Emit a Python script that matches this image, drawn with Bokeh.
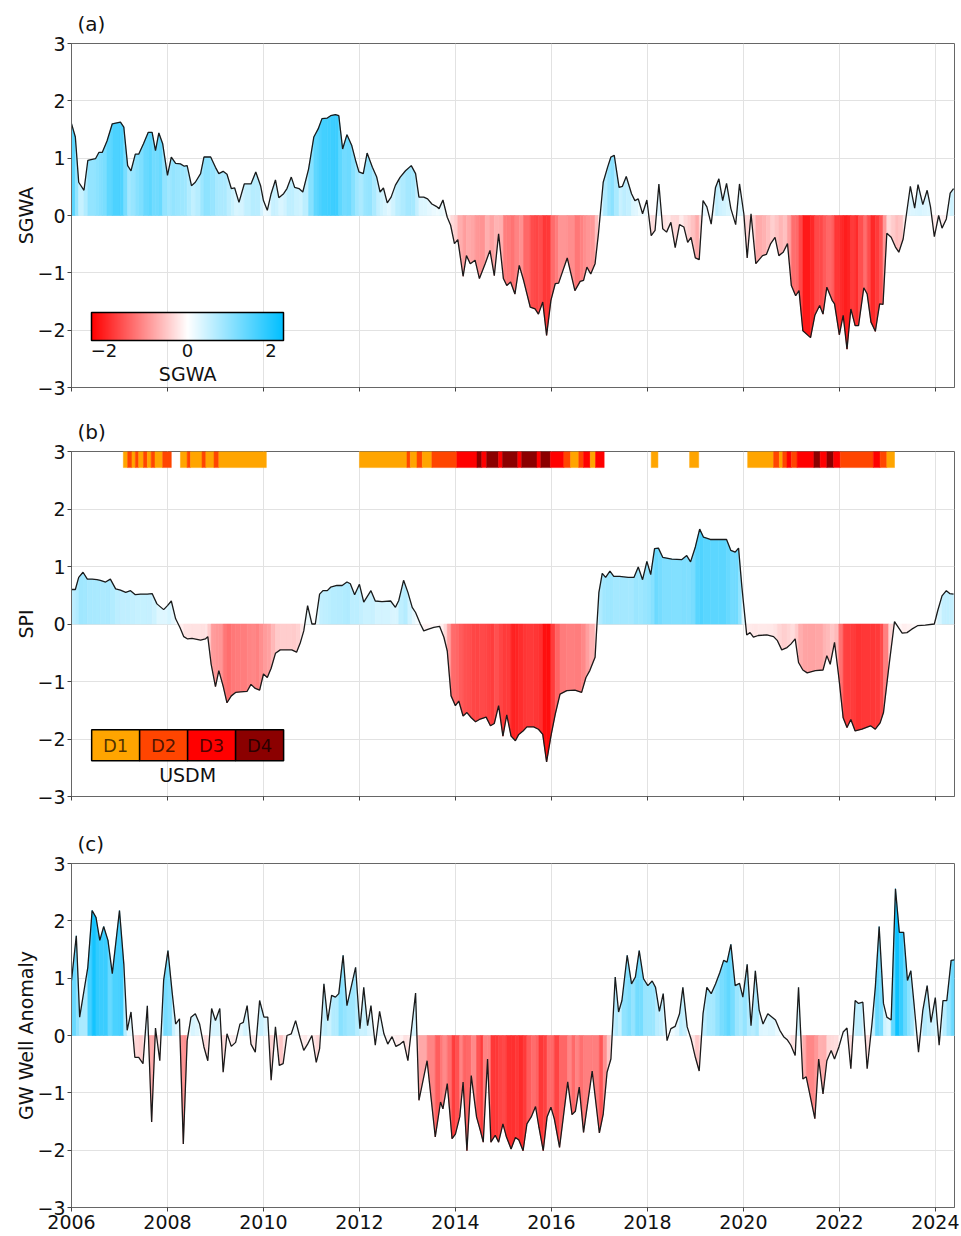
import numpy as np
from bokeh.plotting import figure
from bokeh.layouts import column
from bokeh.models import FixedTicker, ColorBar, LinearColorMapper, Label, Range1d
from bokeh.embed import file_html
from bokeh.resources import INLINE
from bokeh.core.properties import value

# ---------------- data ----------------
sgwa_t = [2006.00, 2006.08, 2006.15, 2006.26, 2006.34, 2006.50, 2006.57, 2006.64, 2006.74, 2006.85,
          2007.02, 2007.09, 2007.17, 2007.24, 2007.33, 2007.40, 2007.50, 2007.60, 2007.68, 2007.75,
          2007.82, 2007.90, 2008.00, 2008.08, 2008.17, 2008.27, 2008.35, 2008.41, 2008.50, 2008.58,
          2008.69, 2008.76, 2008.90, 2009.00, 2009.07, 2009.16, 2009.24, 2009.33, 2009.40, 2009.49,
          2009.60, 2009.74, 2009.84, 2009.94, 2010.00, 2010.08, 2010.16, 2010.25, 2010.32, 2010.42,
          2010.49, 2010.58, 2010.65, 2010.74, 2010.82, 2010.94, 2011.05, 2011.14, 2011.22, 2011.33,
          2011.40, 2011.50, 2011.57, 2011.65, 2011.74, 2011.84, 2011.92, 2011.99, 2012.08, 2012.16,
          2012.27, 2012.36, 2012.43, 2012.50, 2012.58, 2012.66, 2012.75, 2012.85, 2012.96, 2013.08,
          2013.17, 2013.24, 2013.34, 2013.42, 2013.51, 2013.60, 2013.66, 2013.74, 2013.83, 2013.90,
          2013.98, 2014.05, 2014.16, 2014.23, 2014.31, 2014.41, 2014.50, 2014.62, 2014.72, 2014.81,
          2014.90, 2015.00, 2015.07, 2015.15, 2015.24, 2015.33, 2015.42, 2015.56, 2015.66, 2015.73,
          2015.82, 2015.90, 2015.99, 2016.08, 2016.15, 2016.33, 2016.49, 2016.60, 2016.67, 2016.74,
          2016.82, 2016.91, 2016.98, 2017.08, 2017.17, 2017.24, 2017.31, 2017.41, 2017.48, 2017.56,
          2017.67, 2017.74, 2017.81, 2017.90, 2017.99, 2018.08, 2018.16, 2018.24, 2018.32, 2018.40,
          2018.49, 2018.58, 2018.67, 2018.76, 2018.84, 2018.91, 2019.00, 2019.08, 2019.16, 2019.24,
          2019.33, 2019.42, 2019.49, 2019.57, 2019.65, 2019.74, 2019.84, 2019.92, 2020.01, 2020.08,
          2020.16, 2020.26, 2020.40, 2020.48, 2020.57, 2020.66, 2020.74, 2020.83, 2020.92, 2021.00,
          2021.09, 2021.16, 2021.24, 2021.40, 2021.49, 2021.59, 2021.66, 2021.74, 2021.85, 2021.90,
          2022.00, 2022.08, 2022.16, 2022.24, 2022.33, 2022.40, 2022.51, 2022.58, 2022.66, 2022.75,
          2022.84, 2022.91, 2022.99, 2023.08, 2023.17, 2023.24, 2023.33, 2023.40, 2023.48, 2023.57,
          2023.64, 2023.74, 2023.83, 2023.90, 2023.98, 2024.07, 2024.14, 2024.23, 2024.31, 2024.38]
sgwa_v = [1.60, 1.37, 0.58, 0.44, 0.96, 0.99, 1.10, 1.10, 1.30, 1.60,
          1.63, 1.54, 0.87, 0.78, 1.07, 1.07, 1.25, 1.45, 1.45, 1.13,
          1.44, 1.25, 0.70, 1.02, 0.91, 0.90, 0.86, 0.87, 0.52, 0.58,
          0.73, 1.02, 1.02, 0.84, 0.73, 0.77, 0.72, 0.47, 0.48, 0.23,
          0.55, 0.55, 0.76, 0.52, 0.26, 0.09, 0.38, 0.62, 0.31, 0.38,
          0.47, 0.67, 0.49, 0.47, 0.41, 0.81, 1.37, 1.51, 1.69, 1.70,
          1.74, 1.76, 1.74, 1.16, 1.41, 1.22, 0.96, 0.76, 0.73, 1.09,
          0.84, 0.67, 0.41, 0.48, 0.22, 0.32, 0.53, 0.67, 0.78, 0.87,
          0.73, 0.32, 0.32, 0.29, 0.20, 0.16, 0.12, 0.27, -0.03, -0.17,
          -0.49, -0.42, -1.06, -0.70, -0.84, -0.78, -1.10, -0.84, -0.61, -1.05,
          -0.32, -1.10, -1.22, -1.16, -1.37, -0.87, -1.13, -1.60, -1.63, -1.72,
          -1.51, -2.09, -1.48, -1.19, -1.18, -0.74, -1.31, -1.15, -1.13, -0.90,
          -1.02, -0.84, -0.32, 0.58, 0.84, 1.02, 1.05, 0.49, 0.51, 0.68,
          0.38, 0.26, 0.29, 0.03, 0.27, -0.35, -0.26, 0.55, -0.23, -0.29,
          -0.12, -0.56, -0.16, -0.20, -0.47, -0.38, -0.74, -0.77, 0.26, 0.15,
          -0.15, 0.49, 0.64, 0.26, 0.56, 0.12, -0.16, 0.55, 0.03, -0.74,
          0.03, -0.84, -0.70, -0.68, -0.49, -0.38, -0.70, -0.64, -0.49, -1.22,
          -1.40, -1.31, -2.01, -2.13, -1.74, -1.57, -1.72, -1.25, -1.48, -1.54,
          -2.08, -1.74, -2.33, -1.63, -1.92, -1.92, -1.26, -1.37, -1.86, -2.02,
          -1.54, -1.55, -0.31, -0.38, -0.55, -0.64, -0.41, 0.03, 0.51, 0.13,
          0.54, 0.19, 0.44, 0.15, -0.37, 0.00, -0.22, -0.06, 0.39, 0.47]

spi_t = [2006.00, 2006.08, 2006.15, 2006.24, 2006.33, 2006.43, 2006.53, 2006.60, 2006.71, 2006.81,
         2006.92, 2007.02, 2007.13, 2007.23, 2007.33, 2007.44, 2007.58, 2007.68, 2007.78, 2007.92,
         2008.00, 2008.08, 2008.17, 2008.26, 2008.34, 2008.42, 2008.51, 2008.69, 2008.79, 2008.84,
         2008.91, 2009.00, 2009.07, 2009.16, 2009.24, 2009.33, 2009.42, 2009.52, 2009.66, 2009.74,
         2009.83, 2009.92, 2010.00, 2010.08, 2010.16, 2010.25, 2010.35, 2010.49, 2010.59, 2010.69,
         2010.77, 2010.84, 2010.92, 2011.01, 2011.08, 2011.17, 2011.24, 2011.33, 2011.40, 2011.53,
         2011.64, 2011.74, 2011.81, 2011.90, 2012.00, 2012.09, 2012.24, 2012.33, 2012.47, 2012.65,
         2012.75, 2012.82, 2012.92, 2013.01, 2013.10, 2013.17, 2013.27, 2013.34, 2013.44, 2013.55,
         2013.67, 2013.76, 2013.83, 2013.91, 2014.00, 2014.07, 2014.16, 2014.24, 2014.33, 2014.42,
         2014.50, 2014.64, 2014.73, 2014.81, 2014.90, 2014.99, 2015.07, 2015.16, 2015.25, 2015.32,
         2015.41, 2015.49, 2015.63, 2015.73, 2015.82, 2015.90, 2015.99, 2016.08, 2016.18, 2016.32,
         2016.49, 2016.63, 2016.72, 2016.80, 2016.91, 2016.95, 2016.99, 2017.06, 2017.13, 2017.22,
         2017.30, 2017.42, 2017.60, 2017.72, 2017.81, 2017.90, 2017.99, 2018.07, 2018.15, 2018.23,
         2018.32, 2018.51, 2018.72, 2018.82, 2018.90, 2019.00, 2019.09, 2019.17, 2019.31, 2019.48,
         2019.65, 2019.74, 2019.83, 2019.90, 2019.97, 2020.07, 2020.14, 2020.21, 2020.31, 2020.49,
         2020.63, 2020.71, 2020.80, 2020.91, 2020.99, 2021.08, 2021.15, 2021.24, 2021.33, 2021.50,
         2021.66, 2021.74, 2021.81, 2021.90, 2021.99, 2022.08, 2022.16, 2022.24, 2022.33, 2022.47,
         2022.65, 2022.75, 2022.85, 2022.92, 2023.03, 2023.15, 2023.31, 2023.41, 2023.51, 2023.63,
         2023.79, 2023.98, 2024.05, 2024.14, 2024.23, 2024.30, 2024.38]
spi_v = [0.60, 0.60, 0.81, 0.90, 0.78, 0.78, 0.77, 0.76, 0.73, 0.78,
         0.61, 0.59, 0.55, 0.58, 0.51, 0.52, 0.52, 0.53, 0.35, 0.25,
         0.32, 0.40, 0.09, -0.06, -0.22, -0.26, -0.25, -0.28, -0.26, -0.22,
         -0.70, -1.09, -0.81, -1.08, -1.37, -1.25, -1.19, -1.18, -1.17, -1.05,
         -1.12, -1.15, -0.87, -0.93, -0.77, -0.51, -0.45, -0.45, -0.45, -0.49,
         -0.32, -0.12, 0.32, 0.00, 0.00, 0.52, 0.58, 0.58, 0.64, 0.67,
         0.67, 0.73, 0.70, 0.51, 0.69, 0.38, 0.58, 0.40, 0.39, 0.40,
         0.29, 0.41, 0.76, 0.55, 0.29, 0.20, 0.00, -0.12, -0.09, -0.06,
         -0.04, -0.23, -0.47, -1.25, -1.42, -1.34, -1.60, -1.54, -1.63, -1.70,
         -1.66, -1.62, -1.77, -1.73, -1.42, -1.95, -1.58, -1.95, -2.03, -1.92,
         -1.86, -1.79, -1.79, -1.83, -1.92, -2.40, -1.95, -1.57, -1.22, -1.16,
         -1.15, -1.19, -0.93, -0.81, -0.58, 0.00, 0.55, 0.88, 0.81, 0.92,
         0.83, 0.83, 0.81, 0.81, 0.99, 0.77, 1.09, 0.86, 1.31, 1.32,
         1.16, 1.13, 1.12, 1.19, 1.08, 1.34, 1.65, 1.51, 1.47, 1.47,
         1.47, 1.28, 1.25, 1.32, 0.64, -0.19, -0.15, -0.23, -0.20, -0.19,
         -0.22, -0.29, -0.45, -0.41, -0.35, -0.26, -0.67, -0.80, -0.85, -0.81,
         -0.80, -0.55, -0.70, -0.32, -0.93, -1.63, -1.80, -1.66, -1.86, -1.83,
         -1.77, -1.83, -1.72, -1.54, -0.76, 0.04, -0.16, -0.15, -0.09, -0.03,
         -0.02, 0.00, 0.23, 0.49, 0.58, 0.53, 0.52]

gw_t = [2006.00, 2006.10, 2006.17, 2006.34, 2006.43, 2006.51, 2006.59, 2006.67, 2006.76, 2006.85,
        2007.00, 2007.09, 2007.16, 2007.24, 2007.32, 2007.40, 2007.49, 2007.58, 2007.67, 2007.75,
        2007.84, 2007.92, 2008.01, 2008.10, 2008.17, 2008.25, 2008.33, 2008.41, 2008.49, 2008.58,
        2008.67, 2008.76, 2008.84, 2008.92, 2009.00, 2009.09, 2009.16, 2009.24, 2009.33, 2009.42,
        2009.51, 2009.58, 2009.66, 2009.74, 2009.83, 2009.92, 2010.01, 2010.09, 2010.16, 2010.25,
        2010.33, 2010.41, 2010.49, 2010.58, 2010.67, 2010.76, 2010.84, 2010.92, 2011.01, 2011.10,
        2011.17, 2011.26, 2011.34, 2011.42, 2011.50, 2011.57, 2011.66, 2011.74, 2011.92, 2012.01,
        2012.09, 2012.17, 2012.24, 2012.33, 2012.42, 2012.51, 2012.59, 2012.68, 2012.76, 2012.85,
        2012.92, 2013.01, 2013.17, 2013.24, 2013.41, 2013.58, 2013.69, 2013.74, 2013.83, 2013.93,
        2014.00, 2014.09, 2014.16, 2014.24, 2014.33, 2014.44, 2014.52, 2014.58, 2014.67, 2014.74,
        2014.83, 2014.90, 2014.99, 2015.06, 2015.16, 2015.25, 2015.32, 2015.41, 2015.49, 2015.58,
        2015.67, 2015.74, 2015.83, 2015.91, 2015.99, 2016.06, 2016.17, 2016.34, 2016.43, 2016.50,
        2016.58, 2016.67, 2016.85, 2017.00, 2017.08, 2017.16, 2017.24, 2017.33, 2017.40, 2017.47,
        2017.58, 2017.67, 2017.75, 2017.83, 2017.92, 2018.01, 2018.10, 2018.17, 2018.25, 2018.33,
        2018.41, 2018.49, 2018.58, 2018.67, 2018.74, 2018.83, 2018.91, 2019.00, 2019.08, 2019.16,
        2019.24, 2019.33, 2019.42, 2019.51, 2019.59, 2019.66, 2019.74, 2019.83, 2019.92, 2019.99,
        2020.08, 2020.16, 2020.25, 2020.33, 2020.41, 2020.51, 2020.67, 2020.76, 2020.84, 2020.92,
        2020.99, 2021.08, 2021.15, 2021.24, 2021.31, 2021.49, 2021.57, 2021.66, 2021.74, 2021.83,
        2021.90, 2021.99, 2022.08, 2022.16, 2022.24, 2022.33, 2022.40, 2022.49, 2022.58, 2022.68,
        2022.75, 2022.83, 2022.92, 2022.99, 2023.08, 2023.17, 2023.25, 2023.34, 2023.42, 2023.49,
        2023.56, 2023.65, 2023.74, 2023.83, 2023.91, 2024.00, 2024.08, 2024.16, 2024.24, 2024.33,
        2024.40]
gw_v = [0.96, 1.74, 0.32, 1.19, 2.18, 2.06, 1.66, 1.90, 1.66, 1.08,
        2.18, 1.25, 0.09, 0.41, -0.38, -0.38, -0.49, 0.52, -1.51, 0.13,
        -0.44, 0.96, 1.48, 0.73, 0.20, 0.29, -1.89, -0.09, 0.32, 0.38,
        0.20, -0.20, -0.44, 0.47, 0.26, 0.47, -0.64, 0.03, -0.19, -0.12,
        0.20, 0.23, 0.52, -0.15, -0.29, 0.61, 0.32, 0.32, -0.78, 0.15,
        -0.52, -0.49, 0.00, 0.03, 0.26, -0.03, -0.26, -0.15, 0.00, -0.47,
        -0.23, 0.90, 0.26, 0.70, 0.67, 0.73, 1.40, 0.52, 1.19, 0.12,
        0.84, 0.17, 0.52, -0.17, 0.42, 0.03, -0.15, -0.02, -0.19, -0.15,
        -0.10, -0.44, 0.74, -1.13, -0.44, -1.77, -1.16, -1.28, -0.84, -1.80,
        -1.72, -1.42, -0.81, -2.01, -0.70, -1.42, -1.66, -1.86, -0.41, -1.86,
        -1.74, -1.86, -1.54, -1.76, -1.98, -1.78, -1.82, -2.01, -1.54, -1.42,
        -1.24, -1.60, -2.01, -1.42, -1.25, -1.45, -1.95, -0.81, -1.38, -1.32,
        -0.90, -1.69, -0.62, -1.70, -1.37, -0.64, -0.41, 1.02, 0.41, 0.61,
        1.40, 0.90, 1.02, 1.48, 0.99, 0.87, 0.95, 0.84, 0.42, 0.73,
        -0.09, 0.12, 0.16, 0.38, 0.84, 0.15, -0.06, -0.38, -0.62, 0.38,
        0.84, 0.73, 0.90, 1.10, 1.31, 1.28, 1.59, 0.87, 0.91, 0.67,
        1.24, 0.17, 1.13, 0.44, 0.20, 0.38, 0.27, 0.09, -0.02, -0.08,
        -0.17, -0.35, 0.84, -0.76, -0.72, -1.45, -0.41, -1.02, -0.44, -0.26,
        -0.41, -0.20, 0.06, 0.13, -0.58, 0.61, 0.56, 0.58, -0.58, 0.20,
        0.84, 1.90, 0.56, 0.32, 0.27, 2.56, 1.80, 1.80, 0.96, 1.13,
        0.52, -0.29, 0.44, 0.87, 0.23, 0.66, -0.17, 0.61, 0.61, 1.31,
        1.32]

# USDM drought category periods (start year, end year, category 1..4)
usdm_start = [2007.08, 2007.17, 2007.26, 2007.33, 2007.40, 2007.50, 2007.58, 2007.66, 2007.74, 2007.90,
              2008.27, 2008.41, 2008.48, 2008.72, 2008.80, 2008.97, 2009.07,
              2012.00, 2012.99, 2013.06, 2013.20, 2013.31, 2013.51, 2014.03, 2014.45, 2014.55,
              2014.65, 2014.90, 2014.98, 2015.30, 2015.38, 2015.70, 2015.78, 2015.98, 2016.26,
              2016.40, 2016.57, 2016.67, 2016.81, 2016.92,
              2018.08, 2018.88,
              2020.09, 2020.63, 2020.75, 2020.82, 2020.91, 2021.00, 2021.12, 2021.47, 2021.60,
              2021.74, 2021.88, 2022.02, 2022.71, 2022.85, 2022.99]
usdm_end = [2007.17, 2007.26, 2007.33, 2007.40, 2007.50, 2007.58, 2007.66, 2007.74, 2007.90, 2008.08,
            2008.41, 2008.48, 2008.72, 2008.80, 2008.97, 2009.07, 2010.06,
            2012.99, 2013.06, 2013.20, 2013.31, 2013.51, 2014.03, 2014.45, 2014.55, 2014.65,
            2014.90, 2014.98, 2015.30, 2015.38, 2015.70, 2015.78, 2015.98, 2016.26, 2016.40,
            2016.57, 2016.67, 2016.81, 2016.92, 2017.10,
            2018.22, 2019.07,
            2020.63, 2020.75, 2020.82, 2020.91, 2021.00, 2021.12, 2021.47, 2021.60, 2021.74,
            2021.88, 2022.02, 2022.71, 2022.85, 2022.99, 2023.15]
usdm_cat = [1, 2, 1, 2, 1, 2, 1, 2, 1, 2,
            1, 2, 1, 2, 1, 2, 1,
            1, 2, 1, 2, 1, 2, 3, 4, 3,
            4, 3, 4, 3, 4, 3, 4, 3, 2,
            1, 2, 3, 1, 3,
            1, 1,
            1, 2, 1, 2, 3, 2, 3, 4, 3,
            4, 3, 2, 3, 2, 1]

usdm_labels = ["D1", "D2", "D3", "D4"]
usdm_colors = ["#FFA500", "#FF4500", "#FF0000", "#8B0000"]

year_ticks = [2006, 2008, 2010, 2012, 2014, 2016, 2018, 2020, 2022, 2024]
y_ticks = [-3, -2, -1, 0, 1, 2, 3]
cbar_ticks = [-2, 0, 2]

# ---------------- styling ----------------
FONT = "DejaVu Sans"
LIM = 2.3
XMIN, XMAX = 2006, 2024.4


def cmap(v):
    t = max(-1.0, min(1.0, v / LIM))
    if t < 0:
        a = -t
        r, g, b = 255, 255 * (1 - a), 255 * (1 - a)
    else:
        r, g, b = 255 * (1 - t), 255 - 64 * t, 255
    return "#%02x%02x%02x" % (int(round(r)), int(round(g)), int(round(b)))


def minus(n):
    return str(n).replace("-", "\u2212")


def seg_patches(t, v):
    xs, ys, cs = [], [], []
    for i in range(len(t) - 1):
        x0, x1, y0, y1 = t[i], t[i + 1], v[i], v[i + 1]
        if y0 * y1 < 0:
            xc = x0 + (x1 - x0) * y0 / (y0 - y1)
            xs += [[x0, x0, xc], [xc, x1, x1]]
            ys += [[0, y0, 0], [0, y1, 0]]
            cs += [cmap(y0 / 2), cmap(y1 / 2)]
        else:
            xs.append([x0, x0, x1, x1])
            ys.append([0, y0, y1, 0])
            cs.append(cmap((y0 + y1) / 2))
    return xs, ys, cs


def make_fig(h, top, bottom, label, ylab, xlabels):
    p = figure(width=961, height=h, x_range=Range1d(XMIN, XMAX), y_range=Range1d(-3, 3),
               output_backend="svg", toolbar_location=None,
               min_border_left=71, min_border_right=7, min_border_top=top, min_border_bottom=bottom)
    p.title.text = label
    p.title.align = "left"
    p.title.offset = 6
    p.title.standoff = 16
    p.title.text_font = FONT
    p.title.text_font_size = "20px"
    p.title.text_font_style = "normal"
    p.title.text_color = "#111111"
    p.outline_line_color = "#666666"
    p.outline_line_width = 1
    p.background_fill_color = "white"
    p.border_fill_color = "white"
    for ax in (p.xaxis[0], p.yaxis[0]):
        ax.axis_line_color = "#666666"
        ax.major_tick_line_color = "#444444"
        ax.major_tick_out = 4
        ax.major_tick_in = 0
        ax.minor_tick_line_color = None
        ax.major_label_text_font = FONT
        ax.major_label_text_font_size = "19px"
        ax.major_label_text_color = "#111111"
    p.xaxis.ticker = FixedTicker(ticks=year_ticks)
    p.yaxis.ticker = FixedTicker(ticks=y_ticks)
    p.yaxis.major_label_overrides = {k: minus(k) for k in y_ticks}
    p.yaxis.major_label_standoff = 2
    p.yaxis.axis_label = ylab
    p.yaxis.axis_label_text_font = FONT
    p.yaxis.axis_label_text_font_size = "19px"
    p.yaxis.axis_label_text_font_style = "normal"
    p.yaxis.axis_label_text_color = "#111111"
    p.yaxis.axis_label_standoff = -3
    if xlabels:
        p.xaxis.major_label_overrides = {k: str(k) for k in year_ticks}
        p.xaxis.major_label_standoff = 3
    else:
        p.xaxis.major_label_overrides = {k: "" for k in year_ticks}
        p.xaxis.major_label_text_font_size = "0px"
        p.xaxis.major_label_standoff = 0
    p.xgrid.grid_line_color = "#e2e2e2"
    p.ygrid.grid_line_color = "#e2e2e2"
    return p


def draw_series(p, t, v):
    xs, ys, cs = seg_patches(t, v)
    p.patches(xs, ys, fill_color=cs, line_color=cs, line_width=0.6)
    p.line(t, v, line_color="#1a1a1a", line_width=1.3)


# ---------------- panel (a) ----------------
pa = make_fig(408, 43, 21, "(a)", "SGWA", False)
draw_series(pa, sgwa_t, sgwa_v)

palette = [cmap(x) for x in np.linspace(-LIM, LIM, 256)]
mapper = LinearColorMapper(palette=palette, low=-LIM, high=LIM)
cb = ColorBar(color_mapper=mapper, orientation="horizontal", location=(20, 28),
              width=192, height=28, padding=0, ticker=FixedTicker(ticks=cbar_ticks),
              major_label_overrides={k: minus(k) for k in cbar_ticks},
              major_label_text_font=FONT, major_label_text_font_size="18px",
              major_label_text_color="#111111",
              bar_line_color="black", bar_line_width=1.5,
              major_tick_line_color=None, minor_tick_line_color=None,
              background_fill_alpha=0, border_line_color=None, label_standoff=3)
pa.add_layout(cb, "center")
pa.add_layout(Label(x=2008.42, y=-2.76, text="SGWA", text_align="center", text_baseline="middle",
                    text_font=FONT, text_font_size="19px", text_color="#111111"))

# ---------------- panel (b) ----------------
pb = make_fig(412, 43, 24, "(b)", "SPI", False)
draw_series(pb, spi_t, spi_v)
pb.quad(left=usdm_start, right=usdm_end, bottom=2.72, top=3.0,
        fill_color=[usdm_colors[c - 1] for c in usdm_cat],
        line_color=[usdm_colors[c - 1] for c in usdm_cat], line_width=0.5)

leg_left = [2006.42 + i for i in range(4)]
pb.quad(left=leg_left, right=[x + 1 for x in leg_left], bottom=-2.38, top=-1.84,
        fill_color=usdm_colors, line_color="black", line_width=1.5)
pb.text(x=[x + 0.5 for x in leg_left], y=[-2.11] * 4, text=usdm_labels,
        text_font=value(FONT), text_font_size="18px", text_color="#000000", text_alpha=0.7,
        text_align="center", text_baseline="middle")
pb.add_layout(Label(x=2008.42, y=-2.63, text="USDM", text_align="center", text_baseline="middle",
                    text_font=FONT, text_font_size="19px", text_color="#111111"))

# ---------------- panel (c) ----------------
pc = make_fig(416, 43, 29, "(c)", "GW Well Anomaly", True)
draw_series(pc, gw_t, gw_v)

layout = column(pa, pb, pc, spacing=0)
open("out.html", "w").write(file_html(layout, INLINE))
